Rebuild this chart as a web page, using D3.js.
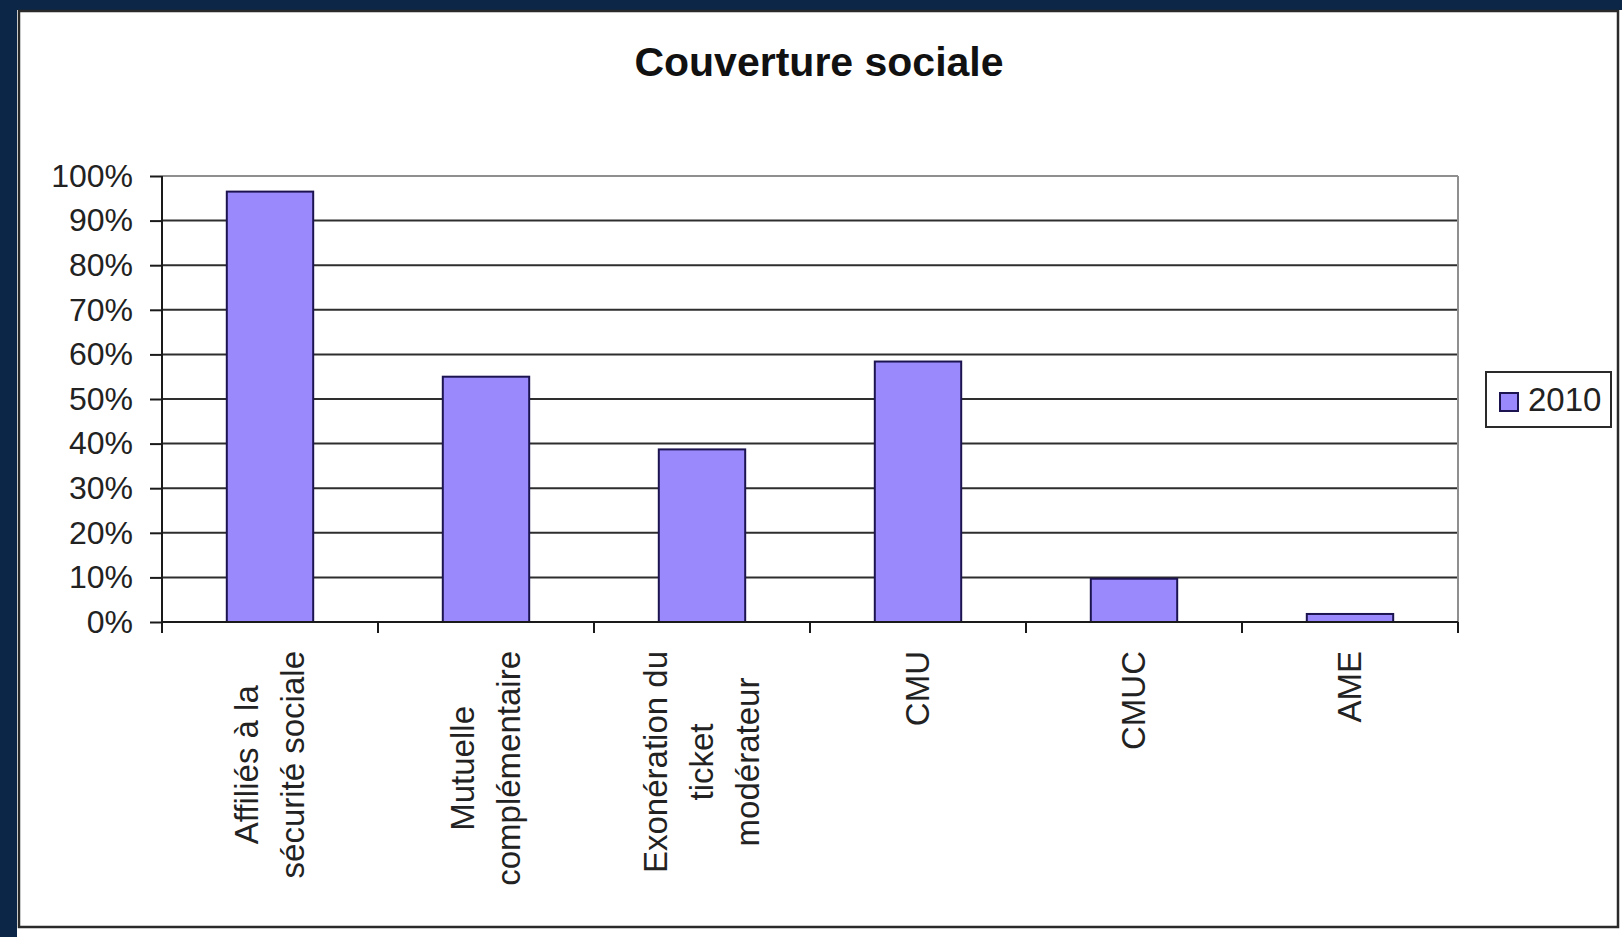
<!DOCTYPE html>
<html>
<head>
<meta charset="utf-8">
<script src="https://cdn.jsdelivr.net/npm/d3@7"></script>
<style>
  html, body { margin: 0; padding: 0; background: #ffffff; }
  svg { display: block; }
</style>
</head>
<body>
<script>
// ---- data ----
const categories = ["Affiliés à la sécurité sociale", "Mutuelle complémentaire", "Exonération du ticket modérateur", "CMU", "CMUC", "AME"];
const categoryLines = [["Affiliés à la", "sécurité sociale"], ["Mutuelle", "complémentaire"], ["Exonération du", "ticket", "modérateur"], ["CMU"], ["CMUC"], ["AME"]];
const values2010 = [0.965, 0.55, 0.387, 0.584, 0.097, 0.018];
const seriesName = "2010";
const yTicks = [0, 0.1, 0.2, 0.3, 0.4, 0.5, 0.6, 0.7, 0.8, 0.9, 1.0];
const titleText = "Couverture sociale";

// ---- layout ----
const W = 1622, H = 937;
const plot = { left: 162, right: 1458, top: 176, bottom: 622 };
const FONT = "'Liberation Sans', Arial, sans-serif";

const svg = d3.select("body").append("svg").attr("width", W).attr("height", H);

// background: navy strips top and left
svg.append("rect").attr("x", 0).attr("y", 0).attr("width", W).attr("height", H).attr("fill", "#ffffff");
svg.append("rect").attr("x", 0).attr("y", 0).attr("width", W).attr("height", 10).attr("fill", "#0b2646");
svg.append("rect").attr("x", 0).attr("y", 0).attr("width", 17).attr("height", H).attr("fill", "#0b2646");

// chart frame
svg.append("rect").attr("x", 19).attr("y", 11).attr("width", 1599).attr("height", 916)
  .attr("fill", "#ffffff").attr("stroke", "#2a2a2a").attr("stroke-width", 2.5);

// title
svg.append("text").attr("x", 819).attr("y", 76).attr("text-anchor", "middle")
  .attr("font-family", FONT).attr("font-weight", "bold").attr("font-size", 41)
  .attr("fill", "#111").text(titleText);

// scales
const x = d3.scaleBand().domain(categories).range([plot.left, plot.right])
  .paddingInner(0.6).paddingOuter(0.3);
const y = d3.scaleLinear().domain([0, 1]).range([plot.bottom, plot.top]);

// gridlines
svg.append("g").selectAll("line").data(yTicks.filter(t => t > 0))
  .join("line")
  .attr("x1", plot.left).attr("x2", plot.right)
  .attr("y1", d => y(d)).attr("y2", d => y(d))
  .attr("stroke", d => d >= 1 ? "#8f8f8f" : "#2e2e2e")
  .attr("stroke-width", 2);

// plot area right border
svg.append("line").attr("x1", plot.right).attr("x2", plot.right)
  .attr("y1", plot.top).attr("y2", plot.bottom)
  .attr("stroke", "#8f8f8f").attr("stroke-width", 2);

// bars
svg.append("g").selectAll("rect").data(values2010)
  .join("rect")
  .attr("x", (d, i) => x(categories[i]))
  .attr("width", x.bandwidth())
  .attr("y", d => y(d))
  .attr("height", d => y(0) - y(d))
  .attr("fill", "#9a88fd")
  .attr("stroke", "#1c1450").attr("stroke-width", 2);

// y axis
const yAxis = svg.append("g").attr("transform", `translate(${plot.left},0)`)
  .call(d3.axisLeft(y).tickValues(yTicks).tickFormat(d3.format(".0%")).tickSize(12).tickPadding(17));
yAxis.select(".domain").attr("stroke", "#1a1a1a").attr("stroke-width", 2)
  .attr("d", `M0,${plot.top}V${plot.bottom + 10}`);
yAxis.selectAll(".tick line").attr("stroke", "#1a1a1a").attr("stroke-width", 2);
yAxis.selectAll(".tick text").attr("font-family", FONT).attr("font-size", 32).attr("fill", "#222");

// x axis line + boundary ticks
svg.append("line").attr("x1", plot.left).attr("x2", plot.right)
  .attr("y1", plot.bottom).attr("y2", plot.bottom)
  .attr("stroke", "#1a1a1a").attr("stroke-width", 2);
const half = (x.step() - x.bandwidth()) / 2;
const bounds = categories.map(c => x(c) - half).concat([plot.right]);
svg.append("g").selectAll("line").data(bounds)
  .join("line")
  .attr("x1", d => d).attr("x2", d => d)
  .attr("y1", plot.bottom).attr("y2", plot.bottom + 11)
  .attr("stroke", "#1a1a1a").attr("stroke-width", 2);

// x labels, rotated, multi-line, centered lines; longest line begins near top
const labelTop = 651;
const lineGap = 46;
const labG = svg.append("g");
categoryLines.forEach((lines, i) => {
  const cx = x(categories[i]) + x.bandwidth() / 2;
  // measure longest line
  const tmp = labG.append("text").attr("font-family", FONT).attr("font-size", 33);
  let maxW = 0;
  lines.forEach(l => { tmp.text(l); maxW = Math.max(maxW, tmp.node().getComputedTextLength()); });
  tmp.remove();
  const cy = labelTop + maxW / 2;
  const n = lines.length;
  lines.forEach((l, j) => {
    const off = (j - (n - 1) / 2) * lineGap;
    labG.append("text")
      .attr("transform", `translate(${cx + off + 11},${cy}) rotate(-90)`)
      .attr("text-anchor", "middle")
      .attr("font-family", FONT).attr("font-size", 33).attr("fill", "#222")
      .text(l);
  });
});

// legend
const lg = svg.append("g");
lg.append("rect").attr("x", 1486).attr("y", 372).attr("width", 125).attr("height", 55)
  .attr("fill", "#fff").attr("stroke", "#2a2a2a").attr("stroke-width", 2);
lg.append("rect").attr("x", 1500).attr("y", 393).attr("width", 18).attr("height", 18)
  .attr("fill", "#9a88fd").attr("stroke", "#1c1450").attr("stroke-width", 2);
lg.append("text").attr("x", 1528).attr("y", 411)
  .attr("font-family", FONT).attr("font-size", 33).attr("fill", "#222").text(seriesName);
</script>
</body>
</html>
